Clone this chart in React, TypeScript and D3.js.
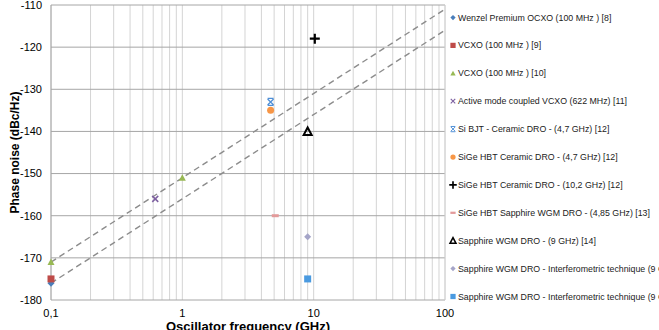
import React from "react";
import * as d3 from "d3";

const width = 659;
const height = 330;
const margin = { left: 51, right: 214, top: 5, bottom: 30 };

// series (frequency in GHz, phase noise in dBc/Hz)
const seriesNames = [
  "Wenzel Premium OCXO (100 MHz ) [8]",
  "VCXO (100 MHz ) [9]",
  "VCXO (100 MHz ) [10]",
  "Active mode coupled VCXO (622 MHz) [11]",
  "Si BJT - Ceramic DRO -  (4,7 GHz) [12]",
  "SiGe HBT Ceramic DRO -  (4,7 GHz) [12]",
  "SiGe HBT Ceramic DRO -  (10,2 GHz) [12]",
  "SiGe HBT Sapphire WGM DRO -  (4,85 GHz) [13]",
  "Sapphire WGM DRO -  (9 GHz) [14]",
  "Sapphire WGM DRO - Interferometric technique (9 GHz) [15]",
  "Sapphire WGM DRO - Interferometric technique (9 GHz) [16]"
];
const seriesFreq = [[0.1], [0.1], [0.1, 1], [0.622], [4.7], [4.7], [10.2], [5.1], [9], [9], [9]];
const seriesNoise = [[-176], [-175], [-171, -151], [-156], [-133], [-135], [-118], [-160], [-140], [-165], [-175]];
const seriesMarker = ["diamond", "square", "triangle", "cross", "star", "circle", "plus", "dash", "openTriangle", "diamond", "square"];
const seriesColor = ["#4a7ebb", "#be4b48", "#98b954", "#7d60a0", "#4f8fd6", "#f79646", "#000000", "#e39a9a", "#000000", "#a5a5c8", "#4a9ae0"];

// dashed reference lines: phase noise at 0.1 GHz, slope 20 dB/decade
const trendStart = [-171, -176];
const trendSlope = 20;

const xTicks = [0.1, 1, 10, 100];
const xTickLabels = ["0,1", "1", "10", "100"];
const yTicks = [-110, -120, -130, -140, -150, -160, -170, -180];

const Marker = ({ type, color, x, y, s = 1 }: { type: string; color: string; x: number; y: number; s?: number }) => {
  const t = `translate(${x},${y}) scale(${s})`;
  switch (type) {
    case "diamond":
      return <path transform={t} d="M0,-3.5L3.5,0L0,3.5L-3.5,0Z" fill={color} />;
    case "square":
      return <path transform={t} d="M-3.5,-3.5H3.5V3.5H-3.5Z" fill={color} />;
    case "triangle":
      return <path transform={t} d="M0,-3.5L3.5,3L-3.5,3Z" fill={color} />;
    case "cross":
      return <path transform={t} d="M-3,-3L3,3M3,-3L-3,3" stroke={color} strokeWidth={1.5} />;
    case "star":
      return <path transform={t} d="M-3,-3L3,3M3,-3L-3,3M-3,-3.5H3M-3,3.5H3" stroke={color} strokeWidth={1.3} />;
    case "circle":
      return <circle transform={t} r={3.5} fill={color} />;
    case "plus":
      return <path transform={t} d="M-5,0H5M0,-5V5" stroke={color} strokeWidth={2.2} />;
    case "dash":
      return <path transform={t} d="M-3.5,-1.5H3.5V1.5H-3.5Z" fill={color} />;
    case "openTriangle":
      return <path transform={t} d="M0,-4L4,3.5L-4,3.5Z" fill="none" stroke={color} strokeWidth={2} />;
    default:
      return null;
  }
};

export default function App() {
  const x = d3.scaleLog().domain([0.1, 100]).range([margin.left, width - margin.right]);
  const y = d3.scaleLinear().domain([-180, -110]).range([height - margin.bottom, margin.top]);

  const minorTicks: number[] = [];
  [0.1, 1, 10].forEach(d => {
    for (let k = 2; k <= 9; k++) minorTicks.push(d * k);
  });

  const fontFamily = "Liberation Sans, Arial, sans-serif";

  return (
    <svg width={width} height={height} style={{ position: "absolute", left: 0, top: 0 }} fontFamily={fontFamily}>
      <rect width={width} height={height} fill="#fff" />
      {/* vertical grid */}
      {minorTicks.concat(xTicks).map((d, i) => (
        <line key={"v" + i} x1={x(d)} x2={x(d)} y1={y(-110)} y2={y(-180)} stroke="#d4d4d4" strokeWidth={1} />
      ))}
      {/* horizontal grid */}
      {yTicks.map((d, i) => (
        <line key={"h" + i} x1={x(0.1)} x2={x(100)} y1={y(d)} y2={y(d)} stroke="#a6a6a6" strokeWidth={1} />
      ))}
      <line x1={x(0.1)} x2={x(0.1)} y1={y(-110)} y2={y(-180)} stroke="#a6a6a6" />
      <line x1={x(100)} x2={x(100)} y1={y(-110)} y2={y(-180)} stroke="#d4d4d4" />

      {/* trend lines */}
      {trendStart.map((s, i) => (
        <line
          key={"t" + i}
          x1={x(0.1)}
          y1={y(s)}
          x2={x(100)}
          y2={y(s + trendSlope * 3)}
          stroke="#8c8c8c"
          strokeWidth={1.4}
          strokeDasharray="6,4"
        />
      ))}

      {/* points */}
      {seriesNames.map((name, i) =>
        seriesFreq[i].map((f, j) => (
          <Marker key={name + j} type={seriesMarker[i]} color={seriesColor[i]} x={x(f)} y={y(seriesNoise[i][j])} />
        ))
      )}

      {/* axis labels */}
      {yTicks.map(d => (
        <text key={"yl" + d} x={x(0.1) - 9} y={y(d)} dy="0.35em" textAnchor="end" fontSize={11} fill="#000">
          {d}
        </text>
      ))}
      {xTicks.map((d, i) => (
        <text key={"xl" + d} x={x(d)} y={y(-180) + 16.5} textAnchor="middle" fontSize={11} fill="#000">
          {xTickLabels[i]}
        </text>
      ))}
      <text x={(x(0.1) + x(100)) / 2} y={331} textAnchor="middle" fontSize={13} fontWeight="bold">
        Oscillator frequency (GHz)
      </text>
      <text
        transform={`translate(19,${(y(-110) + y(-180)) / 2}) rotate(-90)`}
        textAnchor="middle"
        fontSize={12}
        fontWeight="bold"
      >
        Phase noise (dBc/Hz)
      </text>

      {/* legend */}
      {seriesNames.map((name, i) => {
        const ly = 17.5 + i * 27.9;
        return (
          <g key={"lg" + i}>
            <Marker type={seriesMarker[i]} color={seriesColor[i]} x={453} y={ly} s={0.75} />
            <text x={458} y={ly} dy="0.35em" fontSize={8.8} fill="#222">
              {name}
            </text>
          </g>
        );
      })}
    </svg>
  );
}
